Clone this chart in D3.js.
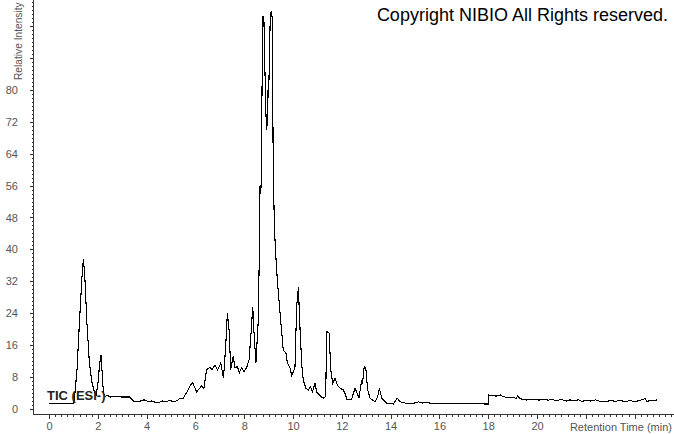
<!DOCTYPE html>
<html><head><meta charset="utf-8">
<script src="https://cdn.jsdelivr.net/npm/d3@7/dist/d3.min.js"></script>
<style>html,body{margin:0;padding:0;background:#fff;}svg{display:block;}</style>
</head><body>
<svg id="chart" width="674" height="434"></svg>
<script>
const retentionTimes = [0,1.0,1.05,1.15,1.25,1.35,1.41,1.47,1.55,1.65,1.75,1.85,1.93,2.0,2.07,2.13,2.18,2.23,2.3,2.4,2.5,2.7,3.0,3.3,3.45,3.6,3.75,3.9,4.05,4.2,4.35,4.5,4.65,4.8,4.95,5.1,5.25,5.37,5.5,5.65,5.8,5.89,6.05,6.26,6.35,6.46,6.6,6.69,6.8,6.91,7.04,7.15,7.24,7.31,7.38,7.45,7.55,7.62,7.72,7.8,7.9,7.99,8.1,8.2,8.28,8.35,8.4,8.48,8.57,8.61,8.65,8.68,8.71,8.73,8.77,8.81,8.86,8.9,8.93,8.96,9.0,9.06,9.1,9.15,9.19,9.24,9.3,9.36,9.47,9.6,9.71,9.77,9.88,9.95,10.01,10.08,10.15,10.22,10.29,10.36,10.42,10.53,10.63,10.72,10.8,10.9,10.97,11.08,11.24,11.34,11.38,11.48,11.55,11.63,11.72,11.82,11.93,12.06,12.16,12.2,12.4,12.54,12.61,12.7,12.82,12.85,12.92,12.99,13.06,13.16,13.36,13.47,13.54,13.64,13.84,14.11,14.27,14.39,14.66,14.93,15.14,15.3,15.48,15.7,16.02,16.5,17.0,17.5,18.0,18.03,18.2,18.35,18.5,18.62,18.76,18.9,19.05,19.16,19.2,19.3,19.45,19.58,19.75,19.9,20.12,20.3,20.45,20.6,20.8,21.0,21.2,21.35,21.49,21.7,21.85,22.0,22.2,22.4,22.6,22.86,23.0,23.2,23.4,23.6,23.8,24.0,24.2,24.43,24.5,24.7,24.9];
const intensities = [1.3,1.3,3,10,22,33,37.6,33,22,12,7,4.5,3.5,6,11,13.5,9,4,3.2,3.4,3.0,3.1,3.0,3.0,2.0,1.9,2.0,2.3,1.9,2.0,1.7,1.6,2.0,1.8,2.2,1.8,2.1,2.7,2.7,4.2,6.0,6.6,4.3,5.8,5.2,9.9,10.4,9.9,11,9.8,11.5,7.7,15.6,24,19.8,9.9,13.3,10.4,10.6,9.1,10.4,9.3,10.4,12.3,19,25.6,19.4,11.5,21.5,35,56,54,60,80,98.5,97,82,72,70,80,78,96,99.6,98,60,45,38,32,24,14.8,14,11.5,10.3,8.3,9.3,10.3,25.6,30.5,19.8,11,7.3,5.2,4.8,5.6,4.3,6.6,4.3,3.5,2.7,3.1,19.4,19,9.8,6.4,7.7,6.0,5.2,4.8,3.5,2.4,2.4,5.2,4.3,2.7,7.3,6.4,10.8,9.8,4.8,2.7,1.8,3.1,5.2,2.7,1.4,1.25,2.7,1.8,1.4,1.4,1.8,1.5,1.6,1.4,1.4,1.3,1.3,1.3,1.25,3.5,3.3,3.25,3.5,3.1,2.9,3.0,2.8,2.7,3.2,2.6,2.4,2.25,2.5,2.3,2.25,2.5,2.2,2.4,2.1,2.4,2.0,2.3,2.1,2.3,1.9,2.2,2.0,2.3,1.9,1.8,2.2,1.9,2.2,1.8,2.1,1.9,2.1,2.6,1.9,2.2,2.25];
const xTickLabels = [0,2,4,6,8,10,12,14,16,18,20];
const yTickLabels = [0,8,16,24,32,40,48,56,64,72,80];
const xTitle = "Retention Time (min)";
const yTitle = "Relative Intensity";
const traceLabel = "TIC (ESI-)";
const copyrightText = "Copyright NIBIO All Rights reserved.";

const svg = d3.select("#chart");
const axisX0 = 34, axisY0 = 414;
const x = d3.scaleLinear().domain([0, 25]).range([49, 659]);
const y = d3.scaleLinear().domain([-1.25, 102.5]).range([414, 0]);
const font = "'Liberation Sans', Arial, sans-serif";
const gray = "#555";

// minor ticks
const xMinor = d3.range(0, 25.6, 0.25);
const xAxis = d3.axisBottom(x).tickValues(xMinor).tickSize(3).tickFormat("");
const gx = svg.append("g").attr("transform", `translate(0,${axisY0})`).call(xAxis);
gx.select(".domain").remove();
gx.selectAll(".tick line").attr("stroke", "#333").attr("shape-rendering", "crispEdges")
  .attr("y2", d => (Math.abs(d % 2) < 1e-6 ? 5 : 3));
svg.append("line").attr("x1", axisX0).attr("x2", 674).attr("y1", axisY0 + 0.5).attr("y2", axisY0 + 0.5)
  .attr("stroke", "#333").attr("shape-rendering", "crispEdges");
const gxl = svg.append("g").attr("transform", `translate(0,${axisY0})`)
  .call(d3.axisBottom(x).tickValues(xTickLabels).tickSize(0).tickPadding(8).tickFormat(d3.format("d")));
gxl.select(".domain").remove();
gxl.selectAll("text").attr("font-family", font).attr("font-size", 11).attr("fill", gray);

const yMinor = d3.range(0, 103, 1);
const gy = svg.append("g").attr("transform", `translate(${axisX0},0)`)
  .call(d3.axisLeft(y).tickValues(yMinor).tickSize(2).tickFormat(""));
gy.select(".domain").remove();
gy.selectAll(".tick line").attr("stroke", "#333").attr("shape-rendering", "crispEdges")
  .attr("x2", d => (d % 8 === 0 ? -4 : -2));
svg.append("line").attr("x1", axisX0 - 0.5).attr("x2", axisX0 - 0.5).attr("y1", 0).attr("y2", axisY0 + 1)
  .attr("stroke", "#333").attr("shape-rendering", "crispEdges");
const gyl = svg.append("g").attr("transform", `translate(${axisX0},0)`)
  .call(d3.axisLeft(y).tickValues(yTickLabels).tickSize(0).tickPadding(16).tickFormat(d3.format("d")));
gyl.select(".domain").remove();
gyl.selectAll("text").attr("font-family", font).attr("font-size", 11).attr("fill", gray);

svg.append("text").attr("x", 672).attr("y", 431).attr("text-anchor", "end")
  .attr("font-family", font).attr("font-size", 11).attr("fill", gray).text(xTitle);
svg.append("text").attr("transform", "translate(22,80) rotate(-90)")
  .attr("font-family", font).attr("font-size", 10.2).attr("fill", gray).text(yTitle);

const line = d3.line().x((d, i) => x(retentionTimes[i])).y(d => y(d));
svg.append("path").datum(intensities).attr("d", line)
  .attr("fill", "none").attr("stroke", "#000").attr("stroke-width", 1.1)
  .attr("stroke-linejoin", "miter").attr("shape-rendering", "crispEdges");

svg.append("text").attr("x", 47).attr("y", 400)
  .attr("font-family", font).attr("font-size", 13).attr("font-weight", "bold").attr("fill", "#222").text(traceLabel);
svg.append("text").attr("x", 668).attr("y", 21).attr("text-anchor", "end")
  .attr("font-family", font).attr("font-size", 18).attr("fill", "#000").text(copyrightText);
</script>
</body></html>
